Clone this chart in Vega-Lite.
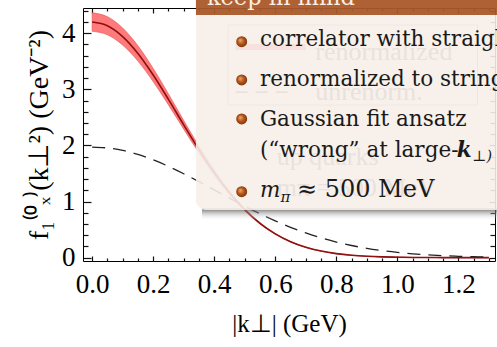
{
  "$schema": "https://vega.github.io/schema/vega-lite/v6.json",
  "width": 412,
  "height": 253,
  "autosize": "none",
  "padding": {"left": 83, "top": 8, "right": 2, "bottom": 86},
  "background": "white",
  "config": {
    "view": {"stroke": "black", "strokeWidth": 1},
    "axis": {"grid": false, "domain": false, "tickColor": "#111111", "tickWidth": 1.2, "labelColor": "black", "titleColor": "black", "labelFont": "Liberation Serif", "titleFont": "Liberation Serif", "labelFontSize": 27, "titleFontSize": 25, "titleFontWeight": "normal"}
  },
  "datasets": {
    "curve": [
      {"k": 0.0, "f": 4.2, "lo": 4.035, "hi": 4.365, "g": 1.97},
      {"k": 0.05, "f": 4.1337, "lo": 3.972, "hi": 4.295, "g": 1.955},
      {"k": 0.1, "f": 3.9409, "lo": 3.789, "hi": 4.093, "g": 1.9107},
      {"k": 0.15, "f": 3.6393, "lo": 3.503, "hi": 3.776, "g": 1.839},
      {"k": 0.2, "f": 3.2552, "lo": 3.137, "hi": 3.373, "g": 1.7432},
      {"k": 0.25, "f": 2.8208, "lo": 2.723, "hi": 2.919, "g": 1.6273},
      {"k": 0.3, "f": 2.3675, "lo": 2.29, "hi": 2.445, "g": 1.496},
      {"k": 0.35, "f": 1.9249, "lo": 1.866, "hi": 1.984, "g": 1.3545},
      {"k": 0.4, "f": 1.5159, "lo": 1.472, "hi": 1.559, "g": 1.2078},
      {"k": 0.45, "f": 1.1564, "lo": 1.126, "hi": 1.187, "g": 1.0605},
      {"k": 0.5, "f": 0.8544, "lo": 0.834, "hi": 0.875, "g": 0.9172},
      {"k": 0.55, "f": 0.6116, "lo": 0.598, "hi": 0.625, "g": 0.7811},
      {"k": 0.6, "f": 0.424, "lo": 0.416, "hi": 0.432, "g": 0.6552},
      {"k": 0.65, "f": 0.2847, "lo": 0.28, "hi": 0.29, "g": 0.5412},
      {"k": 0.7, "f": 0.1852, "lo": 0.182, "hi": 0.188, "g": 0.4402},
      {"k": 0.75, "f": 0.1168, "lo": 0.115, "hi": 0.118, "g": 0.3526},
      {"k": 0.8, "f": 0.0713, "lo": 0.07, "hi": 0.072, "g": 0.2782},
      {"k": 0.85, "f": 0.0421, "lo": 0.0416, "hi": 0.0426, "g": 0.2162},
      {"k": 0.9, "f": 0.0241, "lo": 0.0238, "hi": 0.0244, "g": 0.1654},
      {"k": 0.95, "f": 0.0134, "lo": 0.0133, "hi": 0.0135, "g": 0.1247},
      {"k": 1.0, "f": 0.0072, "lo": 0.0072, "hi": 0.0072, "g": 0.0926},
      {"k": 1.05, "f": 0.0037, "lo": 0.0037, "hi": 0.0037, "g": 0.0677},
      {"k": 1.1, "f": 0.0019, "lo": 0.0019, "hi": 0.0019, "g": 0.0487},
      {"k": 1.15, "f": 0.0009, "lo": 0.0009, "hi": 0.0009, "g": 0.0345},
      {"k": 1.2, "f": 0.0004, "lo": 0.0004, "hi": 0.0004, "g": 0.0241},
      {"k": 1.25, "f": 0.0002, "lo": 0.0002, "hi": 0.0002, "g": 0.0166},
      {"k": 1.3, "f": 0.0001, "lo": 0.0001, "hi": 0.0001, "g": 0.0112}
    ],
    "ghostBox": [{"k1": 0.4456, "k2": 1.2628, "y1": 4.146, "y2": 2.72}],
    "ghostBand": [{"k1": 0.47, "k2": 0.7, "y": 3.754}],
    "ghostDash": [{"k1": 0.47, "k2": 0.66, "y": 2.952}],
    "ghostText": [
      {"k": 0.731, "y": 3.522, "t": "renormalized"},
      {"k": 0.731, "y": 2.809, "t": "unrenorm."},
      {"k": 0.605, "y": 1.651, "t": "up quarks"},
      {"k": 0.605, "y": 1.098, "t": "mπ = 500 MeV"}
    ],
    "shadow": [{"k1": 0.36, "k2": 1.45, "y1": 0.88, "y2": 0.66}],
    "body": [{"k1": 0.34, "k2": 1.45, "y1": 4.33, "y2": 0.848}],
    "header": [{"k1": 0.34, "k2": 1.45, "y1": 4.7, "y2": 4.324}],
    "title": [{"k": 0.376, "y": 4.512, "t": "keep in mind"}],
    "bullets": [
      {"k": 0.49, "y": 3.849},
      {"k": 0.49, "y": 3.168},
      {"k": 0.49, "y": 2.472},
      {"k": 0.49, "y": 1.175}
    ],
    "lines": [
      {"k": 0.5498, "y": 3.777, "t": "correlator with straight gauge link"},
      {"k": 0.5498, "y": 3.068, "t": "renormalized to string length"},
      {"k": 0.5498, "y": 2.346, "t": "Gaussian fit ansatz"},
      {"k": 0.5498, "y": 1.799, "t": "(“wrong” at large-"}
    ],
    "approx": [{"k": 0.671, "y": 1.075, "t": "≈ 500 MeV"}],
    "boldK": [{"k": 1.195, "y": 1.799, "t": "k"}],
    "italM": [{"k": 0.5498, "y": 1.075, "t": "m"}],
    "subs": [
      {"k": 0.617, "y": 0.99, "t": "π"},
      {"k": 1.245, "y": 1.73, "t": "⊥)"}
    ]
  },
  "resolve": {"axis": {"x": "independent", "y": "independent"}},
  "layer": [
    {
      "data": {"name": "curve"},
      "mark": {"type": "area", "interpolate": "monotone", "fill": "#ff7a7a", "stroke": "#e05050", "strokeWidth": 0.6},
      "encoding": {
        "x": {"field": "k", "type": "quantitative", "scale": {"domain": [-0.03, 1.32], "nice": false, "zero": false},
          "axis": {"orient": "bottom", "values": [0, 0.2, 0.4, 0.6, 0.8, 1.0, 1.2], "format": ".1f", "tickSize": 5, "offset": -5, "labelPadding": 10, "title": "|k⊥|  (GeV)", "titlePadding": 14}},
        "y": {"field": "lo", "type": "quantitative", "scale": {"domain": [-0.06, 4.45], "nice": false, "zero": false},
          "axis": {"orient": "left", "values": [0, 1, 2, 3, 4], "format": "d", "tickSize": 8, "offset": -8, "labelPadding": 8, "title": "f₁⁽⁰ₓ⁾(k⊥²)  (GeV⁻²)", "titleFontSize": 28, "titlePadding": 8}},
        "y2": {"field": "hi"}
      }
    },
    {
      "data": {"name": "curve"},
      "mark": {"type": "line", "interpolate": "monotone", "color": "#8e1010", "strokeWidth": 1.6},
      "encoding": {
        "x": {"field": "k", "type": "quantitative", "axis": {"orient": "bottom", "values": [0.05, 0.1, 0.15, 0.25, 0.3, 0.35, 0.45, 0.5, 0.55, 0.65, 0.7, 0.75, 0.85, 0.9, 0.95, 1.05, 1.1, 1.15, 1.25, 1.3], "labels": false, "tickSize": 3, "offset": -3, "title": null}},
        "y": {"field": "f", "type": "quantitative", "axis": {"orient": "left", "values": [0.2, 0.4, 0.6, 0.8, 1.2, 1.4, 1.6, 1.8, 2.2, 2.4, 2.6, 2.8, 3.2, 3.4, 3.6, 3.8, 4.2, 4.4], "labels": false, "tickSize": 5, "offset": -5, "title": null}}
      }
    },
    {
      "data": {"name": "curve"},
      "mark": {"type": "line", "interpolate": "monotone", "color": "#222222", "strokeWidth": 1.3, "strokeDash": [13, 8]},
      "encoding": {
        "x": {"field": "k", "type": "quantitative", "axis": {"orient": "top", "values": [0, 0.2, 0.4, 0.6, 0.8, 1.0, 1.2], "labels": false, "tickSize": 5, "offset": -5, "title": null}},
        "y": {"field": "g", "type": "quantitative", "axis": {"orient": "right", "values": [0, 1, 2, 3, 4], "labels": false, "tickSize": 6, "offset": -6, "title": null}}
      }
    },
    {
      "data": {"name": "ghostBox"},
      "mark": {"type": "rect", "fill": null, "stroke": "#999999", "strokeWidth": 1},
      "encoding": {
        "x": {"field": "k1", "type": "quantitative", "axis": {"orient": "top", "values": [0.05, 0.1, 0.15, 0.25, 0.3, 0.35, 0.45, 0.5, 0.55, 0.65, 0.7, 0.75, 0.85, 0.9, 0.95, 1.05, 1.1, 1.15, 1.25, 1.3], "labels": false, "tickSize": 3, "offset": -3, "title": null}},
        "x2": {"field": "k2"},
        "y": {"field": "y1", "type": "quantitative", "axis": {"orient": "right", "values": [0.2, 0.4, 0.6, 0.8, 1.2, 1.4, 1.6, 1.8, 2.2, 2.4, 2.6, 2.8, 3.2, 3.4, 3.6, 3.8, 4.2, 4.4], "labels": false, "tickSize": 5, "offset": -5, "title": null}},
        "y2": {"field": "y2"}
      }
    },
    {
      "data": {"name": "ghostBand"},
      "mark": {"type": "rule", "color": "#ff6a6a", "strokeWidth": 6},
      "encoding": {"x": {"field": "k1", "type": "quantitative", "axis": null}, "x2": {"field": "k2"}, "y": {"field": "y", "type": "quantitative", "axis": null}}
    },
    {
      "data": {"name": "ghostDash"},
      "mark": {"type": "rule", "color": "#333333", "strokeWidth": 1.3, "strokeDash": [12, 8]},
      "encoding": {"x": {"field": "k1", "type": "quantitative", "axis": null}, "x2": {"field": "k2"}, "y": {"field": "y", "type": "quantitative", "axis": null}}
    },
    {
      "data": {"name": "ghostText"},
      "mark": {"type": "text", "align": "left", "baseline": "alphabetic", "font": "Liberation Serif", "fontSize": 26, "color": "#666666"},
      "encoding": {"x": {"field": "k", "type": "quantitative", "axis": null}, "y": {"field": "y", "type": "quantitative", "axis": null}, "text": {"field": "t"}}
    },
    {
      "data": {"name": "shadow"},
      "mark": {"type": "rect", "fill": {"gradient": "linear", "x1": 0, "y1": 0, "x2": 0, "y2": 1, "stops": [{"offset": 0, "color": "rgba(70,70,70,0.8)"}, {"offset": 1, "color": "rgba(255,255,255,0)"}]}},
      "encoding": {"x": {"field": "k1", "type": "quantitative", "axis": null}, "x2": {"field": "k2"}, "y": {"field": "y1", "type": "quantitative", "axis": null}, "y2": {"field": "y2"}}
    },
    {
      "data": {"name": "body"},
      "mark": {"type": "rect", "fill": "#f6eee9", "opacity": 0.9, "cornerRadiusBottomLeft": 10},
      "encoding": {"x": {"field": "k1", "type": "quantitative", "axis": null}, "x2": {"field": "k2"}, "y": {"field": "y1", "type": "quantitative", "axis": null}, "y2": {"field": "y2"}}
    },
    {
      "data": {"name": "header"},
      "mark": {"type": "rect", "fill": "#a9592a", "opacity": 0.95},
      "encoding": {"x": {"field": "k1", "type": "quantitative", "axis": null}, "x2": {"field": "k2"}, "y": {"field": "y1", "type": "quantitative", "axis": null}, "y2": {"field": "y2"}}
    },
    {
      "data": {"name": "title"},
      "mark": {"type": "text", "align": "left", "baseline": "alphabetic", "font": "DejaVu Serif", "fontSize": 22.5, "color": "#fbeee2"},
      "encoding": {"x": {"field": "k", "type": "quantitative", "axis": null}, "y": {"field": "y", "type": "quantitative", "axis": null}, "text": {"field": "t"}}
    },
    {
      "data": {"name": "bullets"},
      "mark": {"type": "point", "filled": true, "size": 120, "opacity": 1, "fill": {"gradient": "radial", "x1": 0.35, "y1": 0.35, "r1": 0, "x2": 0.5, "y2": 0.5, "r2": 0.55, "stops": [{"offset": 0, "color": "#f2b27a"}, {"offset": 0.5, "color": "#b8581c"}, {"offset": 1, "color": "#7a3008"}]}},
      "encoding": {"x": {"field": "k", "type": "quantitative", "axis": null}, "y": {"field": "y", "type": "quantitative", "axis": null}}
    },
    {
      "data": {"name": "lines"},
      "mark": {"type": "text", "align": "left", "baseline": "alphabetic", "font": "DejaVu Serif", "fontSize": 21.5, "color": "#1a1a1a"},
      "encoding": {"x": {"field": "k", "type": "quantitative", "axis": null}, "y": {"field": "y", "type": "quantitative", "axis": null}, "text": {"field": "t"}}
    },
    {
      "data": {"name": "approx"},
      "mark": {"type": "text", "align": "left", "baseline": "alphabetic", "font": "DejaVu Serif", "fontSize": 24, "color": "#1a1a1a"},
      "encoding": {"x": {"field": "k", "type": "quantitative", "axis": null}, "y": {"field": "y", "type": "quantitative", "axis": null}, "text": {"field": "t"}}
    },
    {
      "data": {"name": "boldK"},
      "mark": {"type": "text", "align": "left", "baseline": "alphabetic", "font": "DejaVu Serif", "fontSize": 21.5, "fontWeight": "bold", "fontStyle": "italic", "color": "#1a1a1a"},
      "encoding": {"x": {"field": "k", "type": "quantitative", "axis": null}, "y": {"field": "y", "type": "quantitative", "axis": null}, "text": {"field": "t"}}
    },
    {
      "data": {"name": "italM"},
      "mark": {"type": "text", "align": "left", "baseline": "alphabetic", "font": "DejaVu Serif", "fontSize": 21.5, "fontStyle": "italic", "color": "#1a1a1a"},
      "encoding": {"x": {"field": "k", "type": "quantitative", "axis": null}, "y": {"field": "y", "type": "quantitative", "axis": null}, "text": {"field": "t"}}
    },
    {
      "data": {"name": "subs"},
      "mark": {"type": "text", "align": "left", "baseline": "alphabetic", "font": "DejaVu Serif", "fontSize": 15, "fontStyle": "italic", "color": "#1a1a1a"},
      "encoding": {"x": {"field": "k", "type": "quantitative", "axis": null}, "y": {"field": "y", "type": "quantitative", "axis": null}, "text": {"field": "t"}}
    }
  ]
}
